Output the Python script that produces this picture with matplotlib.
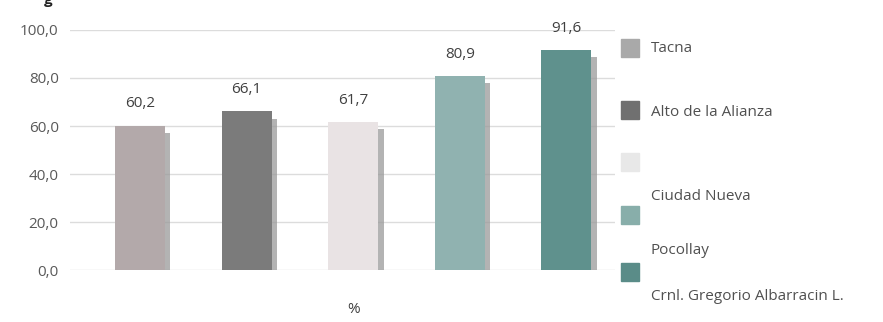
import numpy as np
import matplotlib.pyplot as plt
from matplotlib.patches import Rectangle

plt.rcParams['font.family'] = ['Open Sans', 'DejaVu Sans']

districts = ['Tacna', 'Alto de la Alianza', 'Ciudad Nueva', 'Pocollay',
             'Crnl. Gregorio Albarracin L.']
values = [60.2, 66.1, 61.7, 80.9, 91.6]
bar_colors = ['#b3a9aa', '#7b7b7b', '#e9e3e4', '#90b2b0', '#5f918d']
legend_colors = ['#a9a9a9', '#707070', '#e8e8e8', '#88aeaa', '#5a8c88']
yticks = [0, 20, 40, 60, 80, 100]

fig = plt.figure(figsize=(8.83, 3.22), dpi=100)
ax = fig.add_axes([0.079, 0.161, 0.618, 0.746])

x = np.arange(len(values))
vals = np.array(values)

# soft shadow on the right side of each bar
ax.bar(x + 0.05, vals - 3, width=0.47, color='#9a9a9a', alpha=0.75, zorder=2)
ax.bar(x, vals, width=0.47, color=bar_colors, zorder=3)

for xi, v in zip(x, vals):
    ax.text(xi, v + 9, f'{v:.1f}'.replace('.', ','), ha='center', va='center',
            fontsize=11, color='#404040')

ax.set_xlim(-0.66, 4.46)
ax.set_ylim(0, 100)
ax.set_yticks(yticks)
ax.set_yticklabels([f'{t:.1f}'.replace('.', ',') for t in yticks])
ax.tick_params(axis='y', length=0, pad=8, labelsize=11, labelcolor='#595959')
ax.set_xticks([])
ax.grid(axis='y', color='#dcdcdc', linewidth=1, zorder=0)
for s in ax.spines.values():
    s.set_visible(False)

ax.text(2, -16.5, '%', ha='center', va='center', fontsize=11, color='#404040',
        transform=ax.transData, clip_on=False)

# legend (labels drift below their keys, as in the source)
W, H = 883, 322
marker_y = [48, 110, 162, 215, 272]
label_y = [48, 113, 196, 250, 297]
for c, my in zip(legend_colors, marker_y):
    fig.add_artist(Rectangle((621 / W, 1 - (my + 9) / H), 18 / W, 18 / H,
                             transform=fig.transFigure, color=c))
for name, ly in zip(districts, label_y):
    fig.text(651 / W, 1 - ly / H, name, ha='left', va='center', fontsize=11,
             color='#505050')

# remnant of a cropped title
fig.text(0.055, 1.0, 'g', ha='center', va='center', fontsize=11,
         color='#222222', fontweight='bold')

fig.savefig('out.png', dpi=100)
